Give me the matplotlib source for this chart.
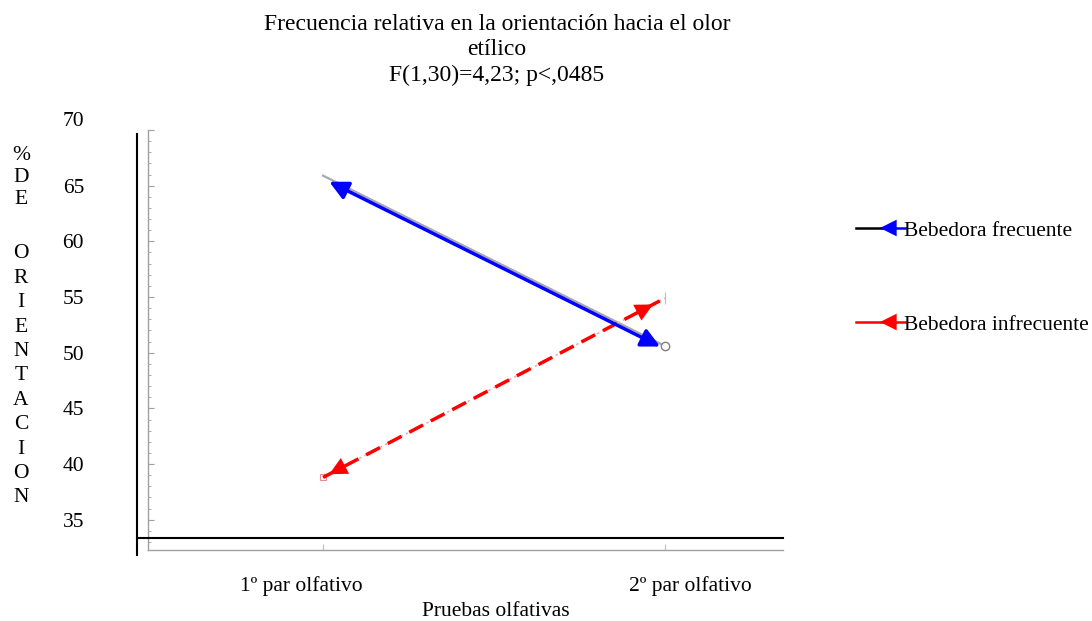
"""Frecuencia relativa en la orientación hacia el olor etílico: interaction plot."""

import matplotlib

matplotlib.use("Agg", force=True)
import matplotlib.pyplot as plt  # noqa: E402
from matplotlib.lines import Line2D  # noqa: E402
import matplotlib.transforms as mtransforms  # noqa: E402

plt.rcParams["font.family"] = ["Liberation Serif", "DejaVu Serif"]
plt.rcParams["font.size"] = 15.5

# data
pruebas = ["1º par olfativo", "2º par olfativo"]
frecuente = [65.9, 50.6]
infrecuente = [38.8, 54.9]
series_names = ["Bebedora frecuente", "Bebedora infrecuente"]
yticks = [35, 40, 45, 50, 55, 60, 65, 70]
ylabel_top = ["%", "D", "E"]
ylabel_bottom = ["O", "R", "I", "E", "N", "T", "A", "C", "I", "O", "N"]

W, H = 1092, 621
FS = 15.5
fig = plt.figure(figsize=(W / 100, H / 100), dpi=100)
ax = fig.add_axes([148 / W, 1 - 550 / H, 635 / W, 420 / H])
ax.set_xlim(-0.512, 1.345)
ax.set_ylim(32.28, 69.68)

xs = [0, 1]

# faint original lines underneath
ax.plot(xs, frecuente, color="#a8a8b0", lw=1.6, zorder=2)
ax.plot([xs[1]], [frecuente[1]], "o", ms=6, mfc="white", mec="#808080", mew=1.0, zorder=5)
ax.plot(xs, infrecuente, color="#e8b0b0", lw=1.2, ls=(0, (1.5, 2)), zorder=2)
ax.plot([xs[0]], [infrecuente[0]], "s", ms=5, mfc="none", mec="#e09090", mew=0.8, zorder=2)
ax.plot([xs[1]], [infrecuente[1]], "|", ms=8, mec="#e0b0b0", mew=0.8, zorder=2)

# drawn arrows
down = mtransforms.offset_copy(ax.transData, fig=fig, x=0, y=-3, units="dots")
ax.annotate("", xy=(xs[1], frecuente[1]), xytext=(xs[0], frecuente[0]),
            xycoords=down, textcoords=down,
            arrowprops=dict(arrowstyle="<|-|>", color="#0000ff", lw=2.5,
                            mutation_scale=28, shrinkA=5, shrinkB=4), zorder=4)

ax.plot(xs, infrecuente, color="#ff0000", lw=2.5, ls=(0, (4.5, 2.5)), zorder=3,
        solid_capstyle="butt")
dx = 0.07
slope = infrecuente[1] - infrecuente[0]
ax.annotate("", xy=(xs[0] + 0.018, infrecuente[0] + 0.018 * slope),
            xytext=(xs[0] + dx, infrecuente[0] + dx * slope),
            arrowprops=dict(arrowstyle="-|>", color="#ff0000", lw=0,
                            mutation_scale=32, shrinkA=0, shrinkB=0), zorder=4)
ax.annotate("", xy=(xs[1] - 0.035, infrecuente[1] - 0.035 * slope),
            xytext=(xs[1] - 0.035 - dx, infrecuente[1] - (0.035 + dx) * slope),
            arrowprops=dict(arrowstyle="-|>", color="#ff0000", lw=0,
                            mutation_scale=32, shrinkA=0, shrinkB=0), zorder=4)

# axes styling: gray frame left/bottom, labels far out
for side in ["top", "right"]:
    ax.spines[side].set_visible(False)
ax.spines["left"].set_color("#a0a0a0")
ax.spines["bottom"].set_color("#a0a0a0")
ax.spines["left"].set_linewidth(1.0)
ax.spines["bottom"].set_linewidth(1.0)
ax.set_yticks(yticks)
ax.set_yticklabels([str(v) for v in yticks])
ax.set_yticks(range(33, 70), minor=True)
ax.tick_params(axis="y", which="major", direction="in", length=4, color="#a0a0a0",
               pad=46, labelsize=FS)
ax.tick_params(axis="y", which="minor", direction="in", length=2, color="#a0a0a0")
ax.set_xticks(xs)
ax.set_xticklabels([])
ax.tick_params(axis="x", direction="in", length=4, color="#c0c0c0")

# the top label sits a little higher in the original
top_lab = ax.get_yticklabels()[-1]
top_lab.set_transform(top_lab.get_transform()
                      + mtransforms.ScaledTranslation(0, 0.11, fig.dpi_scale_trans))

# x labels, slightly off the tick positions as in the original
tx = ax.get_xaxis_transform()
ax.text(-0.065, -0.085, pruebas[0], transform=tx, ha="center", va="center", fontsize=FS)
ax.text(1.075, -0.085, pruebas[1], transform=tx, ha="center", va="center", fontsize=FS)

# heavy black axes lines
ax.plot([-0.545, -0.545], [31.8, 69.68], color="black", lw=1.5, clip_on=False, zorder=6)
ax.plot([-0.545, 1.345], [33.35, 33.35], color="black", lw=1.5, clip_on=False, zorder=6)

# titles
fig.text(497 / W, 1 - 14 / H,
         "Frecuencia relativa en la orientación hacia el olor\netílico\nF(1,30)=4,23; p<,0485",
         ha="center", va="top", fontsize=17, linespacing=1.28)
fig.text(496 / W, 1 - 611 / H, "Pruebas olfativas", ha="center", va="center", fontsize=FS)

# stacked y label
for i, ch in enumerate(ylabel_top):
    fig.text(21 / W, 1 - (155 + 22.5 * i) / H, ch, ha="center", va="center", fontsize=FS)
for i, ch in enumerate(ylabel_bottom):
    fig.text(21 / W, 1 - (254 + 24.4 * i) / H, ch, ha="center", va="center", fontsize=FS)

# legend drawn by hand
for name, col, lead, ypx in [(series_names[0], "#0000ff", "black", 228),
                              (series_names[1], "#ff0000", "#ff0000", 322)]:
    yf = 1 - ypx / H
    fig.add_artist(Line2D([856 / W, 882 / W], [yf, yf], color=lead, lw=1.8))
    fig.add_artist(Line2D([882 / W, 905 / W], [yf, yf], color=col, lw=1.8))
    ax.annotate("", xy=(880, H - ypx), xytext=(897, H - ypx), xycoords="figure pixels",
                arrowprops=dict(arrowstyle="-|>", color=col, lw=0, mutation_scale=30,
                                shrinkA=0, shrinkB=0), annotation_clip=False)
    fig.text(904 / W, 1 - (ypx + 4) / H, name, ha="left", va="center", fontsize=FS)

fig.savefig("out.png", dpi=100, facecolor="white")
